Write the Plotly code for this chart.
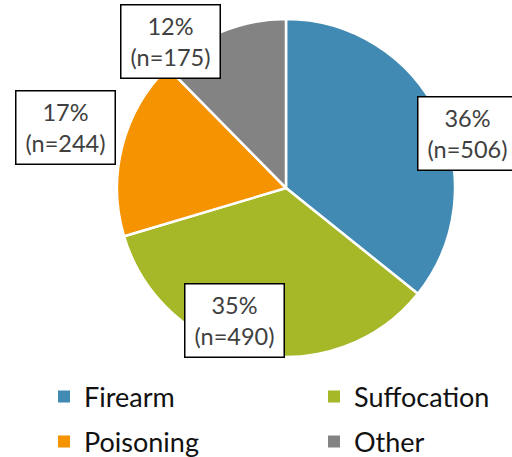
import plotly.graph_objects as go

categories = ["Firearm", "Suffocation", "Poisoning", "Other"]
counts = [506, 490, 244, 175]
colors = ["#418AB3", "#A6B727", "#F59300", "#838383"]
label_pos = [(467, 133), (234, 320), (65, 127), (170, 42)]   # pixel centres of label boxes
legend_pos = [(64, 397), (334, 397), (64, 442), (334, 442)]  # pixel centres of legend swatches

W, H = 512, 457
total = sum(counts)

fig = go.Figure()
fig.add_trace(go.Pie(
    labels=categories,
    values=counts,
    sort=False,
    direction="clockwise",
    rotation=0,
    marker=dict(colors=colors, line=dict(color="white", width=2.5)),
    textinfo="none",
    hoverinfo="label+value+percent",
    showlegend=False,
    domain=dict(x=[117 / W, 455 / W], y=[(H - 357) / H, (H - 19) / H]),
))

# legend entries (one legend per entry so they sit on a 2x2 grid)
legend_layouts = {}
for i, (cat, col, (lx, ly)) in enumerate(zip(categories, colors, legend_pos)):
    name = "legend" if i == 0 else f"legend{i + 1}"
    fig.add_trace(go.Scatter(
        x=[None], y=[None], mode="markers", name=cat,
        marker=dict(symbol="square", size=12, color=col),
        legend=name, showlegend=True, hoverinfo="skip",
    ))
    legend_layouts[name] = dict(
        x=(lx - 20) / W, y=1 - ly / H, xanchor="left", yanchor="middle",
        bgcolor="rgba(0,0,0,0)",
        font=dict(family="Lato", size=27, color="#111111"),
    )

for cat, n, (px, py) in zip(categories, counts, label_pos):
    pct = round(100 * n / total)
    fig.add_annotation(
        x=px / W, y=1 - py / H, xref="paper", yref="paper",
        text=f"{pct}%<br>(n={n})",
        showarrow=False,
        font=dict(family="Lato", size=23.5, color="#404040"),
        bgcolor="white", bordercolor="black", borderwidth=1.5,
        width=96, height=70, borderpad=1,
        xanchor="center", yanchor="middle",
    )

fig.update_layout(
    width=W, height=H,
    margin=dict(l=0, r=0, t=0, b=0, autoexpand=False),
    paper_bgcolor="white",
    plot_bgcolor="white",
    xaxis=dict(visible=False),
    yaxis=dict(visible=False),
    showlegend=True,
    **legend_layouts,
)

fig.write_html(
    "out.html",
    config={"displayModeBar": False},
    post_script="document.body.style.margin='0';document.body.style.overflow='hidden';",
)
